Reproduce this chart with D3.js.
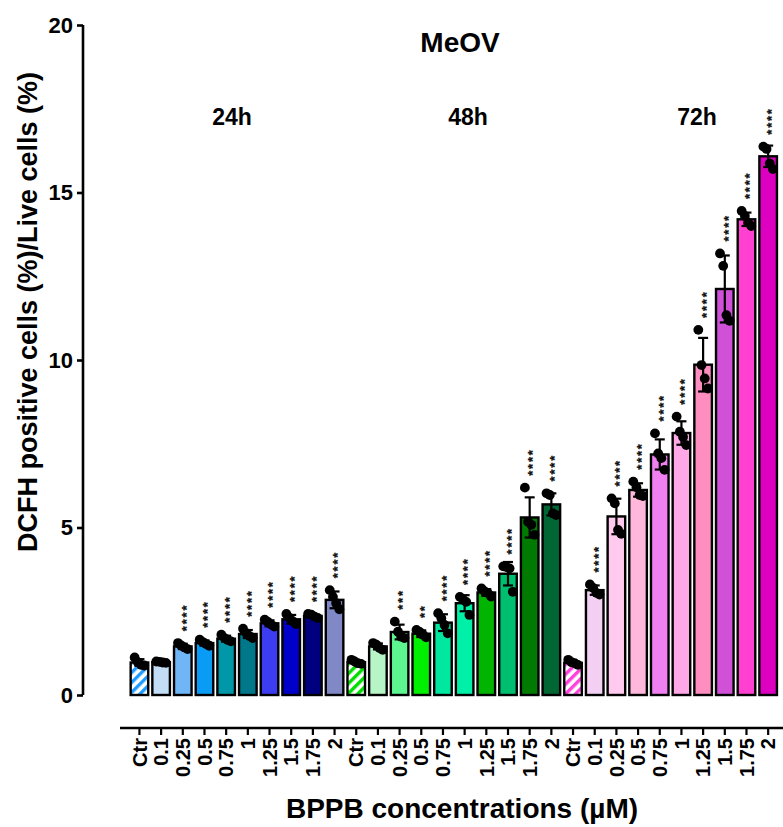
<!DOCTYPE html>
<html>
<head>
<meta charset="utf-8">
<script src="https://cdn.jsdelivr.net/npm/d3@7"></script>
<style>
  html, body { margin: 0; padding: 0; background: #fff; }
  svg { display: block; font-family: "Liberation Sans", Arial, sans-serif; }
</style>
</head>
<body>
<svg id="chart" width="783" height="827"></svg>
<script>
// Concentrations (µM) tested at each time point
const concentrations = ["Ctr", "0.1", "0.25", "0.5", "0.75", "1", "1.25", "1.5", "1.75", "2"];
const timePoints = ["24h", "48h", "72h"];

// Mean DCFH-positive / live cells (%)
const mean24 = [0.97, 0.98, 1.45, 1.55, 1.68, 1.82, 2.14, 2.26, 2.36, 2.84];
const mean48 = [0.98, 1.45, 1.88, 1.83, 2.16, 2.74, 3.06, 3.62, 5.30, 5.69];
const mean72 = [0.96, 3.13, 5.33, 6.12, 7.18, 7.82, 9.86, 12.12, 14.20, 16.08];

// Standard deviations
const sd24 = [0.10, 0.02, 0.08, 0.08, 0.09, 0.12, 0.09, 0.13, 0.06, 0.25];
const sd48 = [0.05, 0.09, 0.22, 0.10, 0.25, 0.24, 0.10, 0.35, 0.60, 0.33];
const sd72 = [0.06, 0.14, 0.53, 0.20, 0.45, 0.35, 0.80, 1.00, 0.20, 0.32];

// Individual replicates
const reps24 = [
  [1.12, 0.98, 0.90, 0.88], [1.00, 0.99, 0.97, 0.96], [1.55, 1.48, 1.42, 1.37],
  [1.65, 1.58, 1.52, 1.47], [1.80, 1.70, 1.64, 1.60], [1.98, 1.85, 1.76, 1.70],
  [2.25, 2.18, 2.10, 2.04], [2.42, 2.30, 2.20, 2.12], [2.42, 2.40, 2.34, 2.30],
  [3.13, 2.93, 2.74, 2.56]
];
const reps48 = [
  [1.05, 1.00, 0.95, 0.93], [1.55, 1.50, 1.40, 1.35], [2.19, 1.89, 1.74, 1.70],
  [1.94, 1.88, 1.80, 1.72], [2.44, 2.29, 2.09, 1.84], [2.93, 2.85, 2.78, 2.39],
  [3.18, 3.09, 3.04, 2.94], [3.84, 3.82, 3.78, 3.08], [6.19, 5.17, 5.08, 4.78],
  [6.02, 5.97, 5.42, 5.37]
];
const reps72 = [
  [1.05, 0.98, 0.95, 0.90], [3.30, 3.20, 3.05, 3.00], [5.87, 5.72, 4.93, 4.81],
  [6.37, 6.20, 5.97, 5.94], [7.81, 7.21, 7.07, 6.72], [8.31, 7.86, 7.70, 7.46],
  [10.90, 9.85, 9.45, 9.15], [13.18, 12.81, 11.34, 11.17], [14.45, 14.30, 14.10, 14.00],
  [16.37, 16.30, 15.87, 15.70]
];

// Significance vs. control
const sig24 = ["", "", "****", "****", "****", "****", "****", "****", "****", "****"];
const sig48 = ["", "", "***", "**", "****", "****", "****", "****", "****", "****"];
const sig72 = ["", "****", "****", "****", "****", "****", "****", "****", "****", "****"];

// Bar fills per time point
const colors24 = ["#1E9BFF", "#C2DDF5", "#70B5F5", "#0A9CF5", "#0097A8", "#00788A", "#3C3CF0", "#0000C8", "#00007E", "#8088C6"];
const colors48 = ["#00DD00", "#B8F5C6", "#5CF590", "#00EE00", "#00E8A0", "#00F0A8", "#00B400", "#00BE70", "#007A00", "#006633"];
const colors72 = ["#FF40DC", "#F3D0F3", "#FFCAEE", "#FFB8DC", "#F080F2", "#FFA8E8", "#FF8EC0", "#D050D8", "#FF40D0", "#DE00C0"];

const yTicks = [0, 5, 10, 15, 20];

const rows = [];
[[mean24, sd24, reps24, sig24, colors24],
 [mean48, sd48, reps48, sig48, colors48],
 [mean72, sd72, reps72, sig72, colors72]].forEach(([m, s, r, g, c], ti) => {
  concentrations.forEach((conc, i) => {
    rows.push({
      key: timePoints[ti] + "|" + conc, time: timePoints[ti], conc, index: i,
      mean: m[i], sd: s[i], reps: r[i], sig: g[i], color: c[i]
    });
  });
});

const svg = d3.select("#chart");
const FONT = "'Liberation Sans', Arial, sans-serif";

const y = d3.scaleLinear().domain([0, 20]).range([695, 25]);
const x = d3.scaleBand().domain(rows.map(d => d.key))
  .range([128.6, 779]).paddingInner(0.19).paddingOuter(0.095);

// Hatch patterns for control bars
const defs = svg.append("defs");
rows.filter(d => d.conc === "Ctr").forEach(d => {
  const p = defs.append("pattern")
    .attr("id", "hatch-" + d.time)
    .attr("patternUnits", "userSpaceOnUse")
    .attr("width", 7).attr("height", 7)
    .attr("patternTransform", "rotate(45)");
  p.append("rect").attr("width", 7).attr("height", 7).attr("fill", "#fff");
  p.append("rect").attr("width", 3.4).attr("height", 7).attr("fill", d.color);
});

// Bars
svg.append("g").selectAll("rect").data(rows).join("rect")
  .attr("x", d => x(d.key))
  .attr("y", d => y(d.mean))
  .attr("width", x.bandwidth())
  .attr("height", d => y(0) - y(d.mean))
  .attr("fill", d => d.conc === "Ctr" ? `url(#hatch-${d.time})` : d.color)
  .attr("stroke", "#000")
  .attr("stroke-width", 2.4);

// Error bars (mean ± SD)
const eb = svg.append("g").attr("stroke", "#000").attr("stroke-width", 2.2);
rows.forEach(d => {
  const cx = x(d.key) + x.bandwidth() / 2;
  eb.append("line").attr("x1", cx).attr("x2", cx)
    .attr("y1", y(d.mean - d.sd)).attr("y2", y(d.mean + d.sd));
  [d.mean - d.sd, d.mean + d.sd].forEach(v => {
    eb.append("line").attr("x1", cx - 5).attr("x2", cx + 5)
      .attr("y1", y(v)).attr("y2", y(v));
  });
});

// Replicate points
const R = 4.9;
const dots = svg.append("g").attr("fill", "#000");
rows.forEach(d => {
  const cx = x(d.key) + x.bandwidth() / 2;
  d.reps.forEach((v, j) => {
    dots.append("circle")
      .attr("cx", cx + (j - 1.5) * 3.2)
      .attr("cy", y(v))
      .attr("r", R);
  });
});

// Significance stars, stacked vertically above each bar
const starSize = 13;
svg.append("g").selectAll("text").data(rows.filter(d => d.sig)).join("text")
  .attr("transform", d => {
    const cx = x(d.key) + x.bandwidth() / 2;
    const top = Math.min(y(d.mean + d.sd), y(d3.max(d.reps)) - R);
    return `translate(${cx},${top - 7}) rotate(-90)`;
  })
  .attr("y", starSize * 0.6)
  .attr("font-family", FONT)
  .attr("font-size", starSize)
  .attr("font-weight", "bold")
  .attr("letter-spacing", 1.8)
  .attr("fill", "#111")
  .attr("stroke", "#111")
  .attr("stroke-width", 0.3)
  .text(d => d.sig);

// Y axis
const yAxis = svg.append("g").attr("transform", "translate(83,0)")
  .call(d3.axisLeft(y).tickValues(yTicks).tickSize(6).tickPadding(4).tickFormat(d3.format("d")));
yAxis.select(".domain").attr("stroke-width", 2.6).attr("d", `M0,${y(0)}V${y(20)}`);
yAxis.selectAll(".tick line").attr("stroke-width", 2.6);
yAxis.selectAll(".tick text")
  .attr("font-family", FONT).attr("font-size", 22).attr("font-weight", "bold").attr("fill", "#000");

// X axis (offset below the plot)
const xAxis = svg.append("g").attr("transform", "translate(0,728)")
  .call(d3.axisBottom(x).tickSize(7).tickFormat(k => k.split("|")[1]));
xAxis.select(".domain").attr("stroke-width", 2.6).attr("d", "M120,0H783");
xAxis.selectAll(".tick line").attr("stroke-width", 2.2);
xAxis.selectAll(".tick text")
  .attr("font-family", FONT).attr("font-size", 20).attr("font-weight", "bold").attr("fill", "#000")
  .attr("text-anchor", "end")
  .attr("transform", "rotate(-90)")
  .attr("x", -10).attr("y", 0).attr("dy", "0.36em");

// Titles and labels
svg.append("text").attr("x", 460).attr("y", 52)
  .attr("text-anchor", "middle").attr("font-family", FONT)
  .attr("font-size", 28).attr("font-weight", "bold").text("MeOV");

const groupLabelX = { "24h": 232, "48h": 468, "72h": 697 };
timePoints.forEach(t => {
  svg.append("text").attr("x", groupLabelX[t]).attr("y", 125)
    .attr("text-anchor", "middle").attr("font-family", FONT)
    .attr("font-size", 23).attr("font-weight", "bold").text(t);
});

svg.append("text").attr("transform", "translate(37,312) rotate(-90)")
  .attr("text-anchor", "middle").attr("font-family", FONT)
  .attr("font-size", 27).attr("font-weight", "bold")
  .text("DCFH positive cells (%)/Live cells (%)");

svg.append("text").attr("x", 462).attr("y", 818)
  .attr("text-anchor", "middle").attr("font-family", FONT)
  .attr("font-size", 28).attr("font-weight", "bold")
  .text("BPPB concentrations (µM)");
</script>
</body>
</html>
